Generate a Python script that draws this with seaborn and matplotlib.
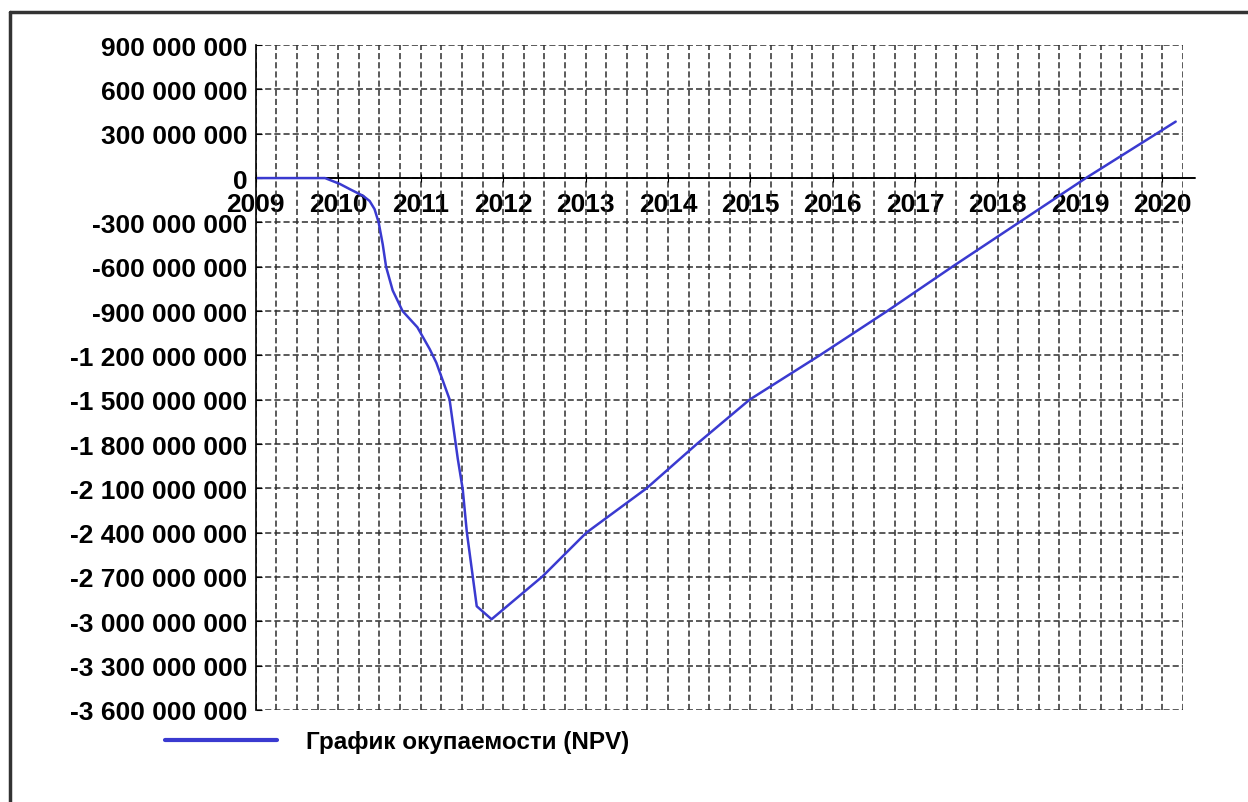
import numpy as np
import pandas as pd
import matplotlib
matplotlib.use("Agg")
import matplotlib.pyplot as plt
import seaborn as sns
from matplotlib.ticker import FuncFormatter, MultipleLocator
from matplotlib.lines import Line2D

# NPV payback curve (years, millions)
years = [2009.0, 2009.84, 2010.02, 2010.14, 2010.30, 2010.38, 2010.44, 2010.49,
         2010.54, 2010.58, 2010.66, 2010.78, 2010.96, 2011.11, 2011.19, 2011.35,
         2011.45, 2011.51, 2011.56, 2011.68, 2011.86, 2012.48, 2013.01, 2013.74,
         2014.35, 2014.99, 2015.84, 2016.66, 2017.45, 2018.26, 2019.07, 2020.16]
npv_mln = [0, 0, -40, -75, -120, -155, -210, -300,
           -450, -600, -760, -900, -1010, -1158, -1250, -1497,
           -1900, -2106, -2397, -2898, -2986, -2695, -2400, -2100,
           -1800, -1500, -1200, -900, -600, -300, 0, 382]
year_labels = list(range(2009, 2021))
series_name = "График окупаемости (NPV)"

df = pd.DataFrame({"year": years, "npv": np.array(npv_mln) * 1e6})

sns.set_style("white")
plt.rcParams["font.family"] = ["Liberation Sans", "DejaVu Sans"]
plt.rcParams["font.weight"] = "bold"
plt.rcParams["text.color"] = "black"
plt.rcParams["xtick.color"] = "black"
plt.rcParams["ytick.color"] = "black"

fig = plt.figure(figsize=(12.48, 8.03), dpi=100)
ax = fig.add_axes([0.205, 0.1146, 0.743, 0.828])

sns.lineplot(data=df, x="year", y="npv", ax=ax, color="#3a3ad0",
             linewidth=1.8, label=series_name)

ax.set_xlim(2009, 2020.25)
ax.set_ylim(-3.6e9, 0.9e9)
ax.xaxis.set_minor_locator(MultipleLocator(0.25))
ax.yaxis.set_major_locator(MultipleLocator(3e8))
ax.set_xticks(year_labels)
ax.xaxis.set_major_formatter(FuncFormatter(lambda v, p: f"{int(round(v))}"))
ax.yaxis.set_major_formatter(
    FuncFormatter(lambda v, p: f"{v:,.0f}".replace(",", " ").replace("\u2212", "-")))

grid_kw = dict(color="#2e2e2e", linestyle=(0, (4, 2)), linewidth=1.1)
ax.grid(True, which="both", axis="x", **grid_kw)
ax.grid(True, which="major", axis="y", **grid_kw)

for s in ["top", "right"]:
    ax.spines[s].set_visible(False)
ax.spines["bottom"].set_visible(False)
ax.spines["bottom"].set_position(("data", 0))
ax.spines["left"].set_color("black")
ax.spines["left"].set_linewidth(1.2)
ax.axhline(0, xmin=0, xmax=1.013, color="black", linewidth=1.4, clip_on=False, zorder=1)

ax.tick_params(axis="x", which="major", direction="inout", length=6, pad=7,
               labelsize=19, bottom=True)
ax.tick_params(axis="x", which="minor", length=0)
ax.tick_params(axis="y", direction="in", length=4, pad=6, labelsize=19, left=True)

ax.set_xlabel("")
ax.set_ylabel("")

leg = ax.legend(loc="center left", bbox_to_anchor=(0.132, 0.075),
                bbox_transform=fig.transFigure, frameon=False, handlelength=4.6,
                handletextpad=1.2, borderpad=0, borderaxespad=0,
                prop={"size": 17.5, "weight": "bold"})
for ln in leg.get_lines():
    ln.set_linewidth(3)

# outer frame (top and left edges)
fig.add_artist(Line2D([0.008, 1.0], [0.984, 0.984], transform=fig.transFigure,
                      color="#333333", linewidth=2.5))
fig.add_artist(Line2D([0.008, 0.008], [0.0, 0.984], transform=fig.transFigure,
                      color="#333333", linewidth=2.5))

fig.savefig("out.png", dpi=100, facecolor="white")
